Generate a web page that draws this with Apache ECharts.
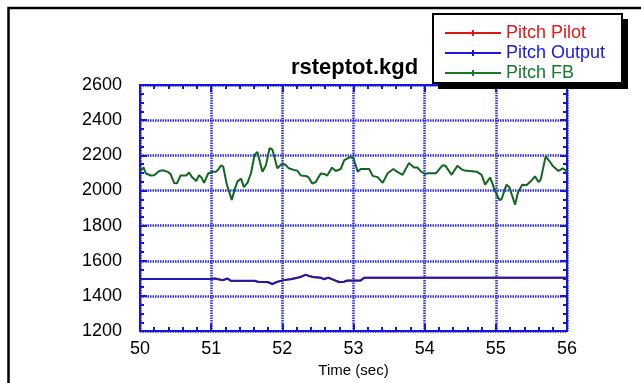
<!DOCTYPE html>
<html>
<head>
<meta charset="utf-8">
<script src="https://cdn.jsdelivr.net/npm/echarts@6/dist/echarts.min.js"></script>
<style>
html,body{margin:0;padding:0;background:#fff;}
#chart{width:641px;height:383px;}
</style>
</head>
<body>
<div id="chart"></div>
<script>
var chartTitle = 'rsteptot.kgd';
var xName = 'Time (sec)';
var seriesNames = ['Pitch Pilot', 'Pitch Output', 'Pitch FB'];
var xTicks = [50, 51, 52, 53, 54, 55, 56];
var yTicks = [1200, 1400, 1600, 1800, 2000, 2200, 2400, 2600];

var fbTime = [50.00,50.05,50.08,50.15,50.20,50.27,50.32,50.39,50.43,50.48,
              50.52,50.57,50.65,50.69,50.73,50.79,50.83,50.87,50.90,50.96,
              51.02,51.07,51.10,51.14,51.17,51.22,51.29,51.33,51.37,51.42,
              51.46,51.51,51.56,51.61,51.65,51.72,51.77,51.82,51.86,51.93,
              52.00,52.05,52.09,52.16,52.21,52.26,52.33,52.37,52.42,52.47,
              52.54,52.59,52.63,52.70,52.75,52.82,52.87,52.96,53.00,53.06,
              53.10,53.22,53.27,53.34,53.41,53.48,53.56,53.61,53.69,53.78,
              53.85,53.90,53.94,54.00,54.05,54.16,54.25,54.29,54.38,54.46,
              54.52,54.56,54.63,54.73,54.80,54.85,54.92,54.99,55.05,55.08,
              55.15,55.19,55.27,55.31,55.37,55.43,55.49,55.55,55.60,55.63,
              55.70,55.75,55.80,55.88,55.94,56.00];
var fbValue = [2107,2131,2098,2085,2087,2111,2115,2106,2093,2043,
               2041,2085,2085,2102,2076,2054,2087,2070,2043,2098,
               2106,2107,2119,2143,2135,2033,1946,2006,2052,2067,
               2019,2043,2098,2204,2219,2107,2144,2241,2233,2126,
               2154,2144,2126,2117,2113,2085,2083,2074,2039,2048,
               2096,2094,2085,2130,2111,2122,2172,2191,2181,2107,
               2122,2122,2083,2076,2043,2098,2122,2107,2089,2157,
               2131,2130,2111,2094,2098,2098,2143,2141,2089,2141,
               2120,2113,2111,2107,2089,2033,2074,1996,1946,1950,
               2033,2019,1919,1987,2033,2030,2052,2080,2048,2061,
               2194,2169,2139,2111,2126,2107];

var outTime = [50.00,50.98,51.00,51.05,51.16,51.23,51.28,51.61,51.66,51.80,
               51.86,51.93,52.02,52.12,52.21,52.26,52.33,52.37,52.44,52.54,
               52.58,52.65,52.73,52.80,52.87,52.91,53.10,53.15,56.00];
var outValue = [1497,1497,1503,1499,1490,1499,1486,1486,1481,1479,
                1468,1481,1490,1495,1504,1508,1521,1514,1508,1504,
                1495,1504,1490,1479,1481,1488,1488,1504,1504];
var pilotValue = [1497,1497,1502,1499,1489,1498,1485,1485,1480,1478,
                  1467,1480,1490,1496,1504,1509,1520,1514,1507,1504,
                  1496,1503,1490,1478,1481,1487,1488,1503,1503];

function pairs(xs, ys) {
  var out = [];
  for (var i = 0; i < xs.length; i++) out.push([xs[i], ys[i]]);
  return out;
}

var chart = echarts.init(document.getElementById('chart'), null, {renderer: 'canvas'});
var FONT = 'Liberation Sans, Arial, Helvetica, sans-serif';
var axisBlue = '#1414e6';
var gridStyle = {show: true, lineStyle: {color: '#2e2eea', width: 2.5, type: [1.5, 1]}};

var xMin = xTicks[0], xMax = xTicks[xTicks.length - 1];
var yMin = yTicks[0], yMax = yTicks[yTicks.length - 1];

function xAxisDef(pos, showLabels) {
  return {
    type: 'value', position: pos, min: xMin, max: xMax, interval: 1,
    name: showLabels ? xName : '', nameLocation: 'middle', nameGap: 27,
    nameTextStyle: {fontFamily: FONT, fontSize: 15, color: '#000'},
    axisLine: {show: true, onZero: false, lineStyle: {color: axisBlue, width: 2}},
    axisTick: {show: true, inside: true, length: 7, lineStyle: {color: axisBlue, width: 2}},
    minorTick: {show: true, splitNumber: 5, length: 4, lineStyle: {color: axisBlue, width: 2}},
    axisLabel: {show: showLabels, margin: 9, fontFamily: FONT, fontSize: 18, color: '#000',
                formatter: function (v) { return String(v); }},
    splitLine: showLabels ? gridStyle : {show: false}
  };
}
function yAxisDef(pos, showLabels) {
  return {
    type: 'value', position: pos, min: yMin, max: yMax, interval: 200,
    axisLine: {show: true, onZero: false, lineStyle: {color: axisBlue, width: 2}},
    axisTick: {show: true, inside: true, length: 7, lineStyle: {color: axisBlue, width: 2}},
    minorTick: {show: true, splitNumber: 4, length: 4, lineStyle: {color: axisBlue, width: 2}},
    axisLabel: {show: showLabels, margin: 18, fontFamily: FONT, fontSize: 18, color: '#000',
                formatter: function (v) { return String(v); }},
    splitLine: showLabels ? gridStyle : {show: false}
  };
}

var option = {
  animation: false,
  backgroundColor: '#fff',
  title: {
    text: chartTitle, left: 286, top: 52,
    textStyle: {fontFamily: FONT, fontSize: 22, fontWeight: 'bold', color: '#000'}
  },
  grid: {left: 140, top: 85, width: 427, height: 252, containLabel: false},
  xAxis: [xAxisDef('bottom', true), xAxisDef('top', false)],
  yAxis: [yAxisDef('left', true), yAxisDef('right', false)],
  legend: {
    orient: 'vertical', left: 445, top: 24, z: 60, padding: 0,
    itemWidth: 56, itemHeight: 14, itemGap: 2,
    icon: 'path://M0,6 L56,6 L56,8 L0,8 Z M27,4 L29,4 L29,10 L27,10 Z',
    data: seriesNames.map(function (n, i) {
      var cols = ['#e01818', '#1818e0', '#157a2c'];
      return {name: n, textStyle: {color: cols[i]}};
    }),
    textStyle: {fontFamily: FONT, fontSize: 18, lineHeight: 16, height: 14, padding: [0, 0, 0, 0]},
    itemStyle: {borderWidth: 0}
  },
  graphic: [
    {type: 'rect', z: 50, shape: {x: 8.5, y: 8, width: 700, height: 500},
     style: {fill: 'none', stroke: '#000', lineWidth: 2.5}},
    {type: 'rect', z: 50, shape: {x: 438, y: 19, width: 190, height: 70},
     style: {fill: '#000'}},
    {type: 'rect', z: 51, shape: {x: 433, y: 14, width: 189, height: 69},
     style: {fill: '#fff', stroke: '#000', lineWidth: 2}}
  ],
  series: [
    {name: seriesNames[0], type: 'line', xAxisIndex: 0, yAxisIndex: 0, showSymbol: false, symbol: 'none',
     data: pairs(outTime, pilotValue), lineStyle: {color: '#e01818', width: 2}, itemStyle: {color: '#e01818'}, z: 3},
    {name: seriesNames[1], type: 'line', xAxisIndex: 0, yAxisIndex: 0, showSymbol: false, symbol: 'none',
     data: pairs(outTime, outValue), lineStyle: {color: '#1a1ab4', width: 2}, itemStyle: {color: '#1818e0'}, z: 4},
    {name: seriesNames[2], type: 'line', xAxisIndex: 0, yAxisIndex: 0, showSymbol: false, symbol: 'none',
     data: pairs(fbTime, fbValue), lineStyle: {color: '#116622', width: 2}, itemStyle: {color: '#157a2c'}, z: 4}
  ]
};
chart.setOption(option);
</script>
</body>
</html>
